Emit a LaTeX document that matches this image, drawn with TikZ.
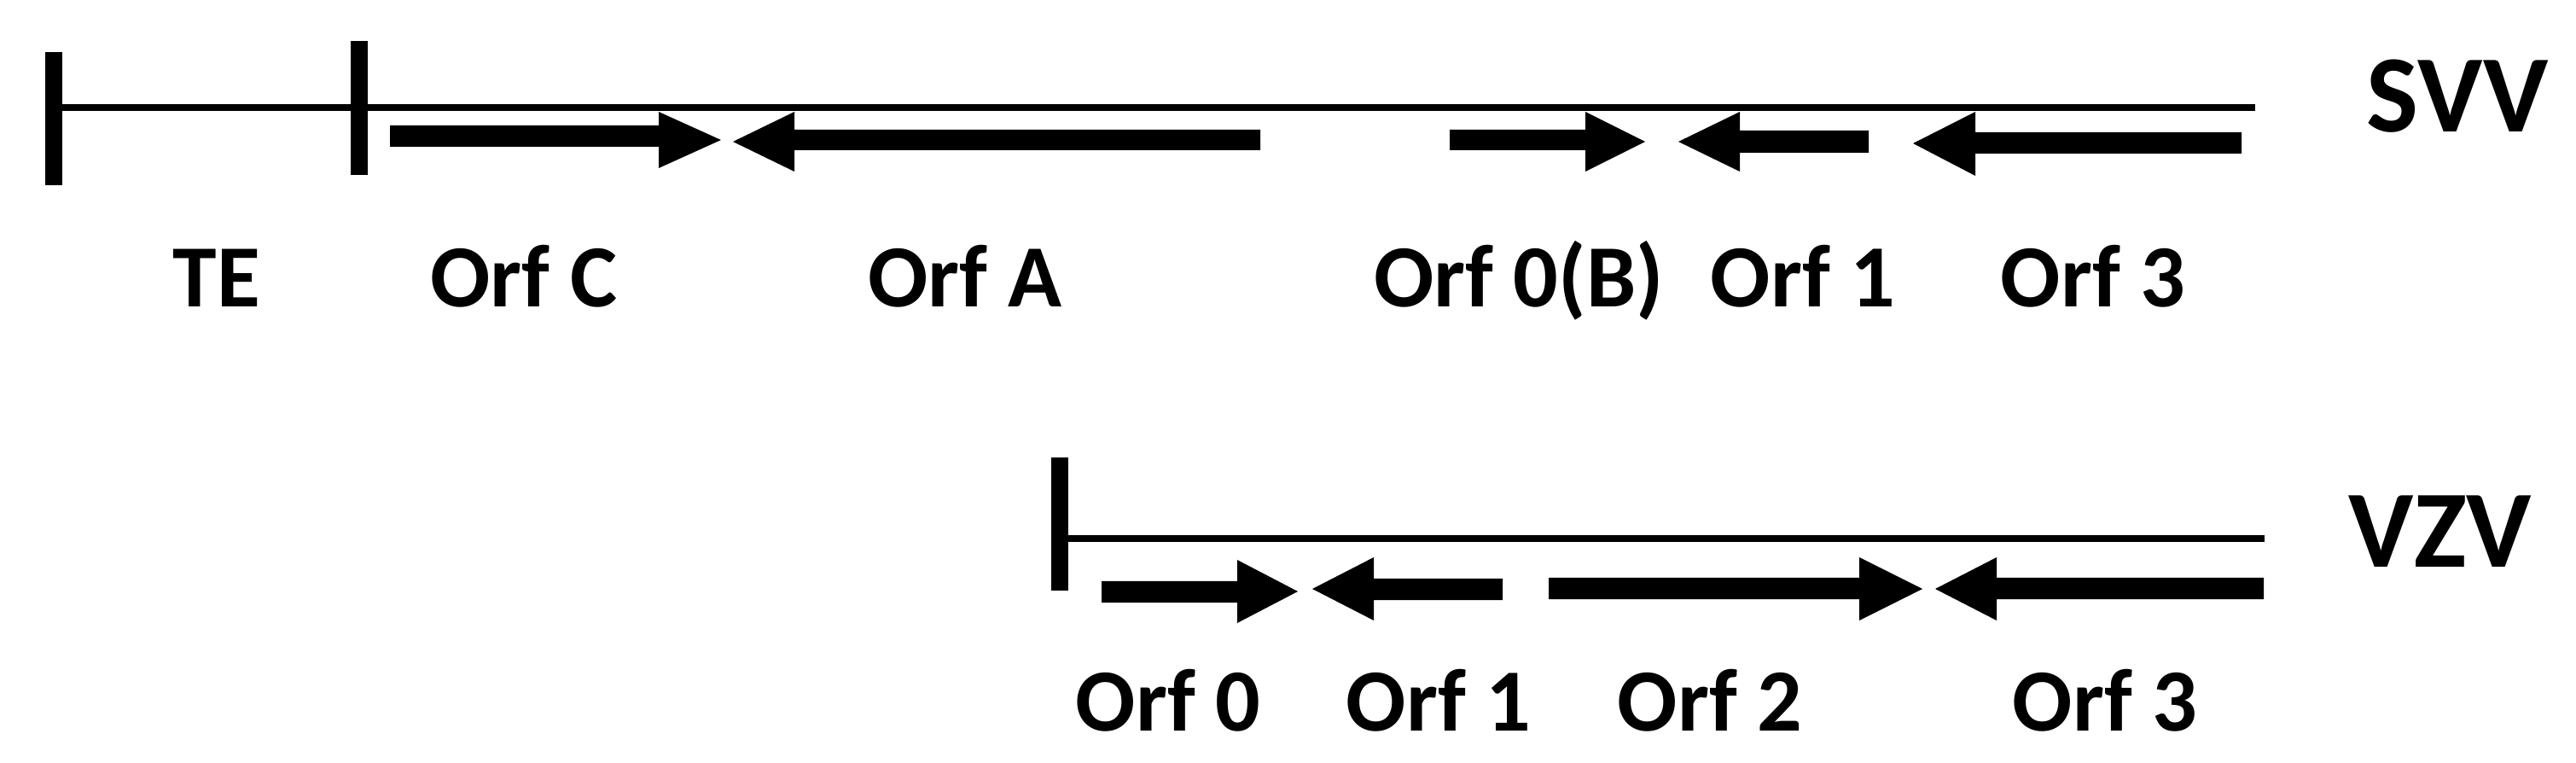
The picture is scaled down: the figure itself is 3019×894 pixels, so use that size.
\documentclass[tikz,border=0pt]{standalone}
\usepackage{fontspec}
\setmainfont{Carlito}
\begin{document}
\begin{tikzpicture}[x=0.1pt,y=-0.1pt,
  lbl/.style={anchor=base,inner sep=0pt,font=\fontsize{10.4}{12}\selectfont\bfseries},
  ttl/.style={anchor=base,inner sep=0pt,font=\fontsize{12.9}{15}\selectfont\bfseries},
  genome/.style={line width=0.8pt},
  tick/.style={line width=2pt},
  gene/.style={fill=black}]
\useasboundingbox (0,0) rectangle (3019,894);
% SVV genome
\coordinate (sl) at (63,126);
\coordinate (sr) at (2643,126);
\coordinate (t1a) at (63,61);
\coordinate (t1b) at (63,217);
\coordinate (t2a) at (421,48);
\coordinate (t2b) at (421,205);
\draw[genome] (sl) -- (sr);
\draw[tick] (t1a) -- (t1b);
\draw[tick] (t2a) -- (t2b);
% SVV genes
\fill[gene] (457,147) -- (772,147) -- (772,131) -- (845,164) -- (772,197) -- (772,172) -- (457,172) -- cycle;
\fill[gene] (1477,152) -- (931,152) -- (931,131) -- (859,166) -- (931,201) -- (931,176) -- (1477,176) -- cycle;
\fill[gene] (1699,152) -- (1858,152) -- (1858,131) -- (1928,166) -- (1858,201) -- (1858,176) -- (1699,176) -- cycle;
\fill[gene] (2190,153) -- (2039,153) -- (2039,131) -- (1967,166) -- (2039,201) -- (2039,179) -- (2190,179) -- cycle;
\fill[gene] (2627,155) -- (2315,155) -- (2315,131) -- (2242,168) -- (2315,206) -- (2315,180) -- (2627,180) -- cycle;
% SVV labels
\node[ttl] (svv) at (2880,155) {SVV};
\node[lbl] (te) at (254,360) {TE};
\node[lbl] (sorfc) at (614,360) {Orf C};
\node[lbl] (sorfa) at (1131,360) {Orf A};
\node[lbl] (sorf0) at (1780,360) {Orf 0(B)};
\node[lbl] (sorf1) at (2113,360) {Orf 1};
\node[lbl] (sorf3) at (2453,360) {Orf 3};
% VZV genome
\coordinate (vl) at (1242,631);
\coordinate (vr) at (2654,631);
\coordinate (t3a) at (1242,536);
\coordinate (t3b) at (1242,692);
\draw[genome] (vl) -- (vr);
\draw[tick] (t3a) -- (t3b);
% VZV genes
\fill[gene] (1291,681) -- (1450,681) -- (1450,656) -- (1521,693) -- (1450,730) -- (1450,706) -- (1291,706) -- cycle;
\fill[gene] (1761,678) -- (1610,678) -- (1610,653) -- (1538,690) -- (1610,727) -- (1610,703) -- (1761,703) -- cycle;
\fill[gene] (1815,677) -- (2179,677) -- (2179,653) -- (2253,690) -- (2179,727) -- (2179,702) -- (1815,702) -- cycle;
\fill[gene] (2653,677) -- (2340,677) -- (2340,653) -- (2268,690) -- (2340,727) -- (2340,702) -- (2653,702) -- cycle;
% VZV labels
\node[ttl] (vzv) at (2860,665) {VZV};
\node[lbl] (vorf0) at (1369,856) {Orf 0};
\node[lbl] (vorf1) at (1686,856) {Orf 1};
\node[lbl] (vorf2) at (2004,856) {Orf 2};
\node[lbl] (vorf3) at (2467,856) {Orf 3};
\end{tikzpicture}
\end{document}
